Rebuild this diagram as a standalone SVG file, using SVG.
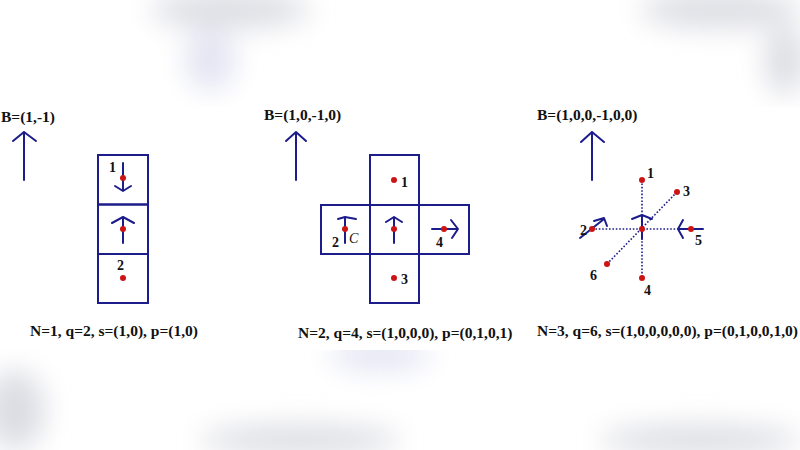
<svg xmlns="http://www.w3.org/2000/svg" width="800" height="450" viewBox="0 0 800 450">
<style>
.t{font-family:"Liberation Serif","Times New Roman",serif;font-weight:bold;font-size:15.5px;fill:#111}
.n{font-family:"Liberation Serif","Times New Roman",serif;font-weight:bold;font-size:14px;fill:#111}
.c{font-family:"Liberation Serif","Times New Roman",serif;font-style:italic;font-size:14px;fill:#111}
.box{fill:none;stroke:#1c1c8a;stroke-width:2}
.ar{fill:none;stroke:#1c1c8a;stroke-width:2;stroke-linecap:round;stroke-linejoin:round}
.dot{fill:#cc1414}
.dl{stroke:#1c1c8a;stroke-width:1.6;stroke-dasharray:1.6 1.8;fill:none}
</style>
<defs>
<filter id="bl" x="-50%" y="-50%" width="200%" height="200%"><feGaussianBlur stdDeviation="14"/></filter>
</defs>
<rect width="800" height="450" fill="#ffffff"/>
<g id="background" filter="url(#bl)" fill="#dcdde3">
<ellipse cx="230" cy="10" rx="80" ry="18"/>
<ellipse cx="210" cy="60" rx="25" ry="30" fill="#e2e4f2"/>
<ellipse cx="720" cy="10" rx="80" ry="18"/>
<ellipse cx="785" cy="60" rx="20" ry="35"/>
<ellipse cx="15" cy="410" rx="30" ry="40"/>
<ellipse cx="380" cy="355" rx="50" ry="15" fill="#e2e4f2"/>
<ellipse cx="300" cy="440" rx="100" ry="15"/>
<ellipse cx="700" cy="440" rx="100" ry="15"/>
</g>
<rect x="0" y="107" width="800" height="243" fill="#ffffff"/>

<g id="panel1">
<text class="t" x="1" y="122">B=(1,-1)</text>
<g id="p1-B"><path class="ar" d="M24,180 V132 M13,141 L24,132 L36,141"/></g>
<g id="p1-cell1"><rect class="box" x="98" y="155" width="50" height="49.5"/><text class="n" x="109" y="172">1</text><path class="ar" d="M123,163 V190 M115,186 L123,191 L131,186"/><circle class="dot" cx="123" cy="178" r="3"/></g>
<g id="p1-cell0"><rect class="box" x="98" y="204.5" width="50" height="49.5"/><path class="ar" d="M123,243 V217 M112,223 L123,217 L134,223"/><circle class="dot" cx="123" cy="229" r="3"/></g>
<g id="p1-cell2"><rect class="box" x="98" y="254" width="50" height="49"/><text class="n" x="117" y="270">2</text><circle class="dot" cx="123" cy="278" r="3"/></g>
<text class="t" x="30" y="336">N=1, q=2, s=(1,0), p=(1,0)</text>
</g>

<g id="panel2">
<text class="t" x="264" y="120">B=(1,0,-1,0)</text>
<g id="p2-B"><path class="ar" d="M296,180 V132 M286,141 L296,132 L306,141"/></g>
<g id="p2-cell1"><rect class="box" x="370" y="155" width="49" height="50"/><circle class="dot" cx="394" cy="180" r="3"/><text class="n" x="401" y="187">1</text></g>
<g id="p2-cell2"><rect class="box" x="321" y="205" width="49" height="49"/><path class="ar" d="M345,243 V217 M338,219 L345,217 L356,219"/><circle class="dot" cx="345" cy="229" r="3"/><text class="n" x="332" y="247">2</text><text class="c" x="349" y="243">C</text></g>
<g id="p2-cell0"><rect class="box" x="370" y="205" width="49" height="49"/><path class="ar" d="M394,243 V217 M386,222 L394,217 L402,222"/><circle class="dot" cx="394" cy="229" r="3"/></g>
<g id="p2-cell4"><rect class="box" x="419" y="205" width="50" height="49"/><path class="ar" d="M432,229 H458 M451,220 L458,229 L452,238"/><circle class="dot" cx="444" cy="229" r="3"/><text class="n" x="436" y="247">4</text></g>
<g id="p2-cell3"><rect class="box" x="370" y="254" width="49" height="49"/><circle class="dot" cx="394" cy="278" r="3"/><text class="n" x="401" y="284">3</text></g>
<text class="t" x="298" y="338">N=2, q=4, s=(1,0,0,0), p=(0,1,0,1)</text>
</g>

<g id="panel3">
<text class="t" x="537" y="120">B=(1,0,0,-1,0,0)</text>
<g id="p3-B"><path class="ar" d="M592,180 V132 M581,142 L592,132 L604,142"/></g>
<g id="connectors">
<path class="dl" d="M642,180 V278"/>
<path class="dl" d="M592,229 H691"/>
<path class="dl" d="M607,264 L677,192"/>
</g>
<g id="p3-node0"><path class="ar" d="M642,239 V215 M632,219 L642,215 L652,219"/><circle class="dot" cx="642" cy="229" r="3"/></g>
<g id="p3-node1"><circle class="dot" cx="642" cy="180" r="3"/><text class="n" x="647" y="178">1</text></g>
<g id="p3-node3"><circle class="dot" cx="677" cy="192" r="3"/><text class="n" x="683" y="196">3</text></g>
<g id="p3-node2"><path class="ar" d="M580,238 L604,219 M594,221 L604,218 L607,226"/><circle class="dot" cx="592" cy="229" r="3"/><text class="n" x="580" y="235">2</text></g>
<g id="p3-node5"><path class="ar" d="M703,229 H678 M683,220 L678,229 L683,238"/><circle class="dot" cx="691" cy="229" r="3"/><text class="n" x="695" y="245">5</text></g>
<g id="p3-node6"><circle class="dot" cx="607" cy="264" r="3"/><text class="n" x="590" y="280">6</text></g>
<g id="p3-node4"><circle class="dot" cx="642" cy="278" r="3"/><text class="n" x="644" y="295">4</text></g>
<text class="t" x="537" y="336">N=3, q=6, s=(1,0,0,0,0,0), p=(0,1,0,0,1,0)</text>
</g>
</svg>
